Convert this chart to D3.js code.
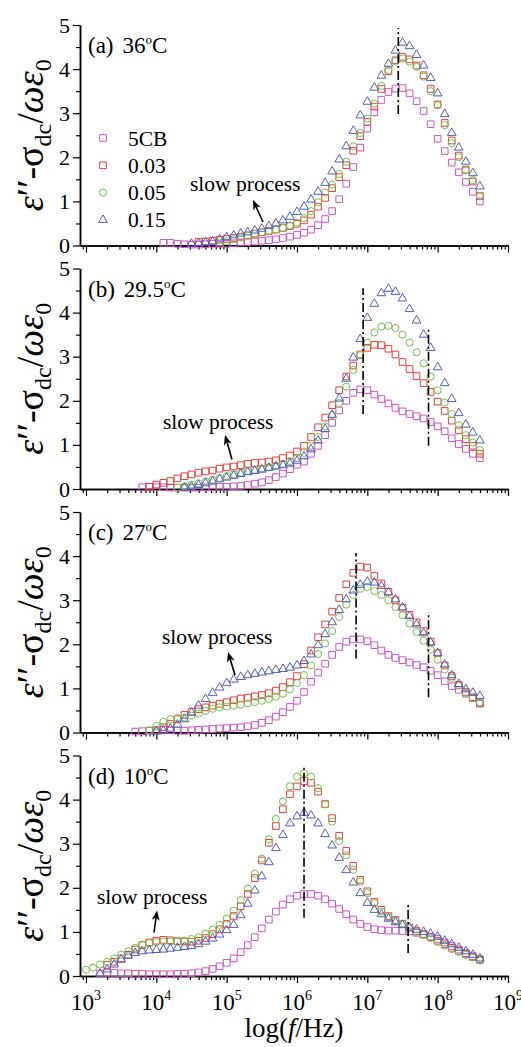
<!DOCTYPE html>
<html>
<head>
<meta charset="utf-8">
<script src="https://cdn.jsdelivr.net/npm/d3@7"></script>
<style>
  body { margin: 0; background: #fff; }
</style>
</head>
<body>
<svg id="chart" width="521" height="1047"></svg>
<script>
// series info
const seriesNames = ["5CB", "0.03", "0.05", "0.15"];
const seriesColors = ["#cc55cc", "#e8413a", "#72c24a", "#4f5fc0"];
const seriesShapes = ["square", "square", "circle", "triangle"];

const panelNames = ["(a)", "(b)", "(c)", "(d)"];
const panelTemps = ["36", "29.5", "27", "10"];

// log10(f) of the first point of each series (points every 0.1 decade up to 10^8.6)
const startA = [4.1, 4.6, 4.9, 4.5];
const startB = [3.8, 3.9, 4.3, 4.4];
const startC = [3.7, 4.0, 3.9, 4.0];
const startD = [3.2, 3.3, 3.0, 3.2];

// (a) 36 C
const a5CB = [.06,.06,.04,.03,.02,.02,.03,.04,.04,
  .04,.05,.07,.08,.09,.11,.12,.14,.17,.20,
  .24,.29,.36,.46,.60,.78,1.05,1.40,1.78,2.22,
  2.65,3.02,3.30,3.48,3.56,3.57,3.45,3.27,3.05,2.75,
  2.42,2.14,1.88,1.66,1.44,1.22,1.00];
const a003 = [.08,.09,.11,.13,
  .15,.17,.20,.23,.27,.30,.33,.36,.40,.44,
  .49,.57,.70,.88,1.08,1.30,1.55,1.82,2.15,2.48,
  2.80,3.15,3.55,3.95,4.20,4.28,4.22,4.08,3.86,3.55,
  3.20,2.78,2.38,2.04,1.72,1.45,1.12];
const a005 = [.07,
  .10,.14,.18,.22,.26,.30,.33,.36,.40,.45,
  .52,.62,.78,.98,1.20,1.38,1.62,1.90,2.25,2.55,
  2.88,3.22,3.62,3.98,4.18,4.24,4.17,4.05,3.83,3.50,
  3.18,2.73,2.32,2.00,1.70,1.48,1.12];
const a015 = [.04,.05,.07,.09,.14,
  .19,.23,.27,.30,.34,.38,.44,.50,.57,.65,
  .76,.88,1.04,1.22,1.42,1.68,1.95,2.25,2.60,2.95,
  3.26,3.58,3.85,4.12,4.42,4.60,4.52,4.32,4.08,3.80,
  3.45,2.98,2.55,2.22,1.90,1.64,1.34];

// (b) 29.5 C
const b5CB = [.04,.05,
  .04,.04,.03,.03,.03,.03,.03,.04,.04,.05,
  .05,.06,.07,.09,.12,.15,.20,.27,.35,.45,
  .55,.62,.80,.98,1.22,1.50,1.78,2.00,2.18,2.26,
  2.24,2.14,2.04,1.94,1.84,1.76,1.70,1.65,1.60,1.52,
  1.42,1.31,1.15,1.02,0.91,0.80,0.70];
const b003 = [.05,
  .10,.14,.18,.24,.29,.33,.37,.40,.42,.46,
  .49,.51,.54,.57,.59,.60,.62,.65,.70,.76,
  .85,.98,1.18,1.40,1.62,1.90,2.24,2.55,2.80,3.05,
  3.20,3.27,3.26,3.18,3.05,2.88,2.72,2.56,2.40,2.20,
  1.98,1.77,1.55,1.33,1.13,0.98,0.80];
const b005 = [.03,.06,.10,.13,.17,.21,.25,
  .29,.33,.37,.41,.43,.46,.49,.53,.57,.63,
  .70,.82,.98,1.18,1.42,1.68,1.95,2.32,2.70,3.03,
  3.32,3.55,3.68,3.70,3.65,3.50,3.32,3.10,2.85,2.55,
  2.24,1.96,1.70,1.44,1.22,1.05,0.88];
const b015 = [.03,.05,.09,.13,.17,.22,
  .26,.30,.34,.38,.41,.44,.48,.51,.54,.58,
  .64,.74,.90,1.10,1.36,1.68,2.05,2.50,2.98,3.40,
  3.88,4.20,4.44,4.54,4.47,4.32,4.08,3.82,3.50,3.20,
  2.76,2.40,2.04,1.72,1.46,1.28,1.10];

// (c) 27 C
const c5CB = [.02,.03,.04,
  .05,.06,.05,.04,.04,.05,.06,.07,.08,.09,
  .10,.11,.12,.14,.17,.22,.28,.36,.46,.58,
  .72,.92,1.15,1.36,1.56,1.76,1.94,2.06,2.11,2.11,
  2.07,1.98,1.86,1.76,1.69,1.64,1.59,1.53,1.48,1.40,
  1.30,1.16,1.05,0.97,0.88,0.78,0.66];
const c003 = [.05,.12,.20,.30,.40,.47,.53,.57,.61,.65,
  .69,.73,.77,.79,.82,.85,.89,.95,1.03,1.14,
  1.28,1.55,1.86,2.16,2.45,2.74,3.05,3.36,3.62,3.76,
  3.74,3.55,3.38,3.19,3.00,2.83,2.67,2.50,2.30,2.06,
  1.80,1.52,1.28,1.08,0.92,0.80,0.66];
const c005 = [.05,
  .15,.24,.30,.33,.34,.38,.43,.49,.54,.57,
  .59,.61,.63,.66,.69,.72,.76,.81,.88,.98,
  1.12,1.30,1.52,1.78,2.02,2.30,2.62,2.90,3.12,3.26,
  3.30,3.21,3.12,3.00,2.84,2.66,2.47,2.28,2.08,1.88,
  1.65,1.43,1.24,1.06,0.90,0.78,0.68];
const c015 = [.02,.04,.09,.18,.30,.45,.61,.76,.90,1.02,
  1.12,1.20,1.26,1.30,1.33,1.36,1.39,1.42,1.44,1.47,
  1.52,1.62,1.77,1.98,2.23,2.50,2.78,3.02,3.22,3.35,
  3.42,3.40,3.32,3.18,3.02,2.84,2.64,2.45,2.25,2.04,
  1.80,1.54,1.30,1.10,0.98,0.90,0.83];

// (d) 10 C
const d5CB = [.06,.07,.07,.06,.06,.05,.05,.04,
  .04,.04,.04,.05,.05,.06,.08,.11,.16,.22,
  .30,.40,.54,.70,.88,1.08,1.28,1.46,1.62,1.74,
  1.82,1.86,1.86,1.82,1.74,1.64,1.52,1.40,1.28,1.18,
  1.11,1.06,1.04,1.03,1.03,1.02,1.01,0.98,0.94,0.89,
  0.84,0.76,0.68,0.60,0.52,0.45,0.38];
const d003 = [.25,.32,.40,.48,.60,.70,.76,
  .80,.82,.81,.79,.78,.78,.80,.86,.95,1.06,
  1.18,1.36,1.58,1.86,2.22,2.62,3.02,3.40,3.78,4.12,
  4.30,4.42,4.38,4.18,3.90,3.58,3.18,2.84,2.50,2.18,
  1.92,1.68,1.50,1.36,1.27,1.18,1.10,1.02,0.95,0.88,
  0.80,0.72,0.64,0.57,0.50,0.43,0.37];
const d005 = [.14,.19,.26,.32,.40,.48,.56,.64,.71,.75,
  .77,.78,.78,.78,.80,.84,.88,.96,1.05,1.16,
  1.30,1.48,1.72,1.98,2.32,2.66,3.10,3.56,3.96,4.30,
  4.52,4.60,4.52,4.26,3.89,3.50,3.06,2.74,2.41,2.14,
  1.88,1.65,1.46,1.33,1.25,1.18,1.08,1.00,0.93,0.86,
  0.77,0.69,0.61,0.55,0.48,0.42,0.35];
const d015 = [.05,.15,.26,.37,.46,.52,.56,.58,
  .59,.60,.62,.64,.66,.68,.72,.78,.85,.94,
  1.04,1.16,1.38,1.64,1.94,2.26,2.58,2.90,3.20,3.46,
  3.62,3.70,3.64,3.46,3.22,2.96,2.68,2.40,2.12,1.88,
  1.66,1.50,1.40,1.30,1.22,1.16,1.10,1.05,1.00,0.96,
  0.89,0.80,0.72,0.64,0.56,0.48,0.40];

// dash-dot guide lines: [log10 f, y from, y to]
const dashA = [[7.44, 2.98, 4.93]];
const dashB = [[6.94, 1.70, 4.55], [7.87, 0.98, 3.68]];
const dashC = [[6.84, 1.68, 4.07], [7.87, 0.80, 2.73]];
const dashD = [[6.10, 1.32, 4.75], [7.58, 0.52, 1.66]];

const yTicks = [0, 1, 2, 3, 4, 5];
const yMinor = [0.5, 1.5, 2.5, 3.5, 4.5];
const xExp = [3, 4, 5, 6, 7, 8, 9];

const panels = [
  { start: startA, values: [a5CB, a003, a005, a015], dashes: dashA,
    note: { tx: 190, ty: 166, tip: [253, 175], tail: [263, 197] } },
  { start: startB, values: [b5CB, b003, b005, b015], dashes: dashB,
    note: { tx: 163, ty: 160.5, tip: [225, 166.5], tail: [232, 191] } },
  { start: startC, values: [c5CB, c003, c005, c015], dashes: dashC,
    note: { tx: 162, ty: 132, tip: [228, 140], tail: [235, 163] } },
  { start: startD, values: [d5CB, d003, d005, d015], dashes: dashD,
    note: { tx: 97, ty: 148.5, tip: [157, 155], tail: [154, 177] } }
];

const SERIF = "'Liberation Serif', 'Times New Roman', Times, 'Nimbus Roman', 'DejaVu Serif', serif";

const svg = d3.select("#chart");
const x = d3.scaleLog().domain([Math.pow(10, 2.915), 1e9]).range([80, 508]);

let xMinor = [];
d3.range(2, 9).forEach(e => {
  d3.range(2, 10).forEach(k => xMinor.push(k * Math.pow(10, e)));
});
xMinor = xMinor.filter(v => v >= x.domain()[0] && v <= x.domain()[1]);
const xMajor = xExp.map(e => Math.pow(10, e));

function symbolFor(shape) {
  if (shape === "circle") return d3.symbol().type(d3.symbolCircle).size(40);
  if (shape === "triangle") return d3.symbol().type(d3.symbolTriangle).size(33);
  return d3.symbol().type(d3.symbolSquare).size(44);
}

function styleAxis(g) {
  g.attr("font-family", null);
  g.select(".domain").attr("stroke", "#000").attr("stroke-width", 1.5);
  g.selectAll(".tick line").attr("stroke", "#000").attr("stroke-width", 1.2);
  g.selectAll(".tick text").style("font-size", "22px").attr("fill", "#000");
}

panels.forEach((p, pi) => {
  const top = 25 + pi * 243.5;
  const bottom = top + 220.5;
  const y = d3.scaleLinear().domain([0, 5]).range([bottom, top]);
  const g = svg.append("g");

  // y axis
  g.append("g").attr("transform", "translate(80,0)")
    .call(d3.axisLeft(y).tickValues(yMinor).tickSize(4).tickSizeOuter(0).tickFormat(""))
    .call(styleAxis);
  g.append("g").attr("transform", "translate(80,0)")
    .call(d3.axisLeft(y).tickValues(yTicks).tickSize(7).tickSizeOuter(0).tickFormat(d3.format("d")))
    .call(styleAxis);

  // x axis
  g.append("g").attr("transform", `translate(0,${bottom})`)
    .call(d3.axisBottom(x).tickValues(xMinor).tickSize(4).tickSizeOuter(0).tickFormat(""))
    .call(styleAxis);
  g.append("g").attr("transform", `translate(0,${bottom})`)
    .call(d3.axisBottom(x).tickValues(xMajor).tickSize(7).tickSizeOuter(0).tickFormat(""))
    .call(styleAxis);

  if (pi === panels.length - 1) {
    xExp.forEach(e => {
      const t = g.append("text")
        .attr("x", x(Math.pow(10, e)))
        .attr("y", bottom + 34)
        .attr("text-anchor", "middle")
        .style("font-size", "23px");
      t.append("tspan").text("10");
      t.append("tspan").attr("dy", -10).style("font-size", "14px").text(e);
    });
    const xt = g.append("text")
      .attr("x", 294)
      .attr("y", bottom + 61)
      .attr("text-anchor", "middle")
      .style("font-size", "27px");
    xt.append("tspan").text("log(");
    xt.append("tspan").style("font-style", "italic").text("f");
    xt.append("tspan").text("/Hz)");
  }

  // y title
  const yt = g.append("text")
    .attr("transform", `translate(43,${(top + bottom) / 2}) rotate(-90)`)
    .attr("text-anchor", "middle")
    .style("font-size", "38px");
  yt.append("tspan").style("font-style", "italic").text("ε");
  yt.append("tspan").text("′′-σ");
  yt.append("tspan").attr("dy", 8).style("font-size", "24px").text("dc");
  yt.append("tspan").attr("dy", -8).text("/");
  yt.append("tspan").style("font-style", "italic").text("ωε");
  yt.append("tspan").attr("dy", 8).style("font-size", "24px").text("0");

  // panel label
  const pl = g.append("text").attr("x", 88).attr("y", top + 28).style("font-size", "23px");
  pl.append("tspan").text(panelNames[pi]);
  pl.append("tspan").attr("dx", 9).text(panelTemps[pi]);
  pl.append("tspan").attr("dy", -9).style("font-size", "13px").text("o");
  pl.append("tspan").attr("dy", 9).text("C");

  // data
  p.values.forEach((vals, si) => {
    const pts = vals.map((v, i) => ({ f: Math.pow(10, p.start[si] + i * 0.1), v: v }));
    g.append("g").selectAll("path")
      .data(pts)
      .join("path")
      .attr("d", symbolFor(seriesShapes[si]))
      .attr("transform", d => `translate(${x(d.f)},${y(d.v)})`)
      .attr("fill", "none")
      .attr("stroke", seriesColors[si])
      .attr("stroke-width", 1);
  });

  // dash-dot guides
  p.dashes.forEach(d => {
    g.append("line")
      .attr("x1", x(Math.pow(10, d[0]))).attr("x2", x(Math.pow(10, d[0])))
      .attr("y1", y(d[1])).attr("y2", y(d[2]))
      .attr("stroke", "#000").attr("stroke-width", 1.6)
      .attr("stroke-dasharray", "9,3,2,3");
  });

  // "slow process" note
  const n = p.note;
  g.append("text").attr("x", n.tx).attr("y", top + n.ty)
    .style("font-size", "21.5px").text("slow process");
  const tip = [n.tip[0], top + n.tip[1]], tail = [n.tail[0], top + n.tail[1]];
  const dx = tip[0] - tail[0], dy = tip[1] - tail[1];
  const len = Math.sqrt(dx * dx + dy * dy);
  const ux = dx / len, uy = dy / len;
  g.append("line")
    .attr("x1", tail[0]).attr("y1", tail[1])
    .attr("x2", tip[0] - ux * 6).attr("y2", tip[1] - uy * 6)
    .attr("stroke", "#000").attr("stroke-width", 1.6);
  const hx = tip[0] - ux * 10, hy = tip[1] - uy * 10;
  g.append("path")
    .attr("d", `M${tip[0]},${tip[1]}L${hx - uy * 4},${hy + ux * 4}L${tip[0] - ux * 7},${tip[1] - uy * 7}L${hx + uy * 4},${hy - ux * 4}Z`)
    .attr("fill", "#000");

  // legend in first panel
  if (pi === 0) {
    seriesNames.forEach((name, si) => {
      const cy = 138 + si * 27.3;
      g.append("path")
        .attr("d", symbolFor(seriesShapes[si]))
        .attr("transform", `translate(103,${cy})`)
        .attr("fill", "none")
        .attr("stroke", seriesColors[si])
        .attr("stroke-width", 1);
      g.append("text").attr("x", 128).attr("y", cy + 7.5)
        .style("font-size", "21.5px").text(name);
    });
  }
});

// serif type everywhere, as in the figure
svg.selectAll("text").style("font-family", SERIF).attr("fill", "#000");
</script>
</body>
</html>
